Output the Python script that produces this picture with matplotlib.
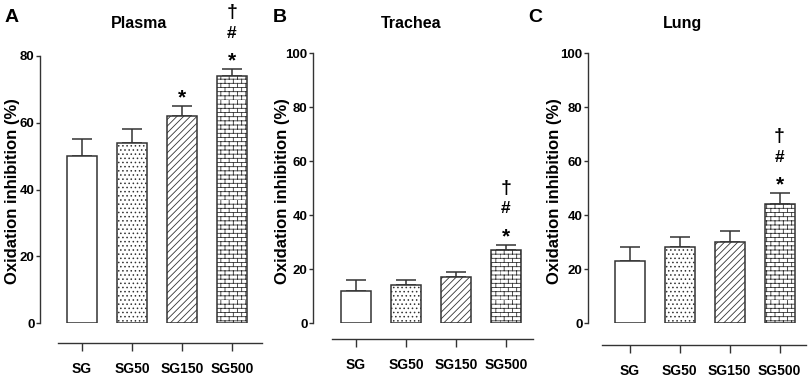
import matplotlib
matplotlib.use("Agg")
import numpy as np
import matplotlib.pyplot as plt
import matplotlib.hatch as mhatch
from matplotlib.path import Path

# group names and values (mean, upper error)
groups = ["SG", "SG50", "SG150", "SG500"]

plasma_mean = [50, 54, 62, 74]
plasma_err = [5, 4, 3, 2]
trachea_mean = [12, 14, 17, 27]
trachea_err = [4, 2, 2, 2]
lung_mean = [23, 28, 30, 44]
lung_err = [5, 4, 4, 4]

# significance marks above each bar, from bottom to top
plasma_marks = [[], [], ["*"], ["*", "#", "\u2020"]]
trachea_marks = [[], [], [], ["*", "#", "\u2020"]]
lung_marks = [[], [], [], ["*", "#", "\u2020"]]

titles = ["Plasma", "Trachea", "Lung"]
letters = ["A", "B", "C"]


# 'O' hatch redrawn as a brick wall (matplotlib has no brick pattern)
class BrickHatch(mhatch.HatchPatternBase):
    def __init__(self, hatch, density):
        rows = int(hatch.count('O') * density)
        rows += rows % 2
        self.rows = rows
        self.cols = rows // 2
        self.num_vertices = 2 * rows + 2 * rows * self.cols

    def set_vertices_and_codes(self, vertices, codes):
        n = self.rows
        k = 0
        for i in range(n):
            y0 = i / n
            vertices[k] = (0, y0)
            vertices[k + 1] = (1, y0)
            k += 2
            for j in range(self.cols):
                x = (2 * j + (i % 2)) / n
                vertices[k] = (x, y0)
                vertices[k + 1] = (x, y0 + 1 / n)
                k += 2
        codes[0::2] = Path.MOVETO
        codes[1::2] = Path.LINETO


mhatch._hatch_types = [BrickHatch if t is mhatch.LargeCircles else t
                       for t in mhatch._hatch_types]

plt.rcParams['font.family'] = ['Liberation Sans', 'DejaVu Sans']
plt.rcParams['font.weight'] = 'bold'
plt.rcParams['hatch.linewidth'] = 0.6

W, H = 809, 381
ink = '#333333'
hatches = ["", "....", "/////", "OOOO"]

# panel layout in pixels: left spine, right end, y of zero, y of top, ymax,
# xlim left, x-axis start (data), bottom spine offset
layout = [
    dict(left=40, right=262, y0=323, ytop=56, ymax=80, xl=-0.84, xs=-0.48, off=20),
    dict(left=313, right=533, y0=323, ytop=53, ymax=100, xl=-0.86, xs=-0.48, off=16),
    dict(left=588, right=806, y0=323, ytop=53, ymax=100, xl=-0.83, xs=-0.55, off=22),
]
title_x = [139, 411, 683]
letter_x = [5, 273, 528]
ylabel_x = [13, 283, 554]

means = [plasma_mean, trachea_mean, lung_mean]
errs = [plasma_err, trachea_err, lung_err]
marks = [plasma_marks, trachea_marks, lung_marks]

# baseline offset (points above the error bar top) and size of each symbol
mark_offset = {"*": 2, "#": 22.5, "\u2020": 37.5}
mark_size = {"*": 15, "#": 12.5, "\u2020": 14}

fig = plt.figure(figsize=(W / 100, H / 100), dpi=100)

for p in range(3):
    L = layout[p]
    ax = fig.add_axes([L['left'] / W, (H - L['y0']) / H,
                       (L['right'] - L['left']) / W, (L['y0'] - L['ytop']) / H])
    x = np.arange(len(groups))
    ax.bar(x, means[p], width=0.6, color='white', edgecolor=ink,
           linewidth=1.1, hatch=hatches, zorder=2)
    ax.errorbar(x, means[p], yerr=[np.zeros(len(x)), errs[p]], fmt='none',
                ecolor=ink, elinewidth=1.1, capsize=7, capthick=1.1, zorder=1)

    for i, mk in enumerate(marks[p]):
        top = means[p][i] + errs[p][i]
        for s in mk:
            ax.annotate(s, (x[i], top), xytext=(0, mark_offset[s]),
                        textcoords='offset points', ha='center', va='baseline',
                        fontsize=mark_size[s], fontweight='bold', color='black',
                        annotation_clip=False)

    ax.set_xlim(L['xl'], L['xl'] + (L['right'] - L['left']) / 50)
    ax.set_ylim(0, L['ymax'])
    ax.set_yticks(np.arange(0, L['ymax'] + 1, 20))
    ax.set_xticks(x)
    ax.set_xticklabels(groups, fontsize=12)
    ax.tick_params(axis='y', direction='out', length=3, width=1, pad=1,
                   labelsize=9.5, colors=ink, labelcolor='black')
    ax.tick_params(axis='x', direction='out', length=6, width=1, pad=8,
                   colors=ink, labelcolor='black')

    for side in ['top', 'right']:
        ax.spines[side].set_visible(False)
    ax.spines['left'].set_color(ink)
    ax.spines['bottom'].set_color(ink)
    ax.spines['left'].set_linewidth(1)
    ax.spines['bottom'].set_linewidth(1)
    ax.spines['bottom'].set_position(('outward', L['off'] * 0.72))
    ax.spines['bottom'].set_bounds(L['xs'], ax.get_xlim()[1])

    fig.text(title_x[p] / W, 1 - 28 / H, titles[p], ha='center',
             va='baseline', fontsize=11.5, fontweight='bold')
    fig.text(letter_x[p] / W, 1 - 22 / H, letters[p], ha='left',
             va='baseline', fontsize=14, fontweight='bold')
    fig.text(ylabel_x[p] / W, 1 - 191 / H, "Oxidation inhibition (%)",
             rotation=90, ha='center', va='center', fontsize=12,
             fontweight='bold')

fig.savefig("out.png", dpi=100)
